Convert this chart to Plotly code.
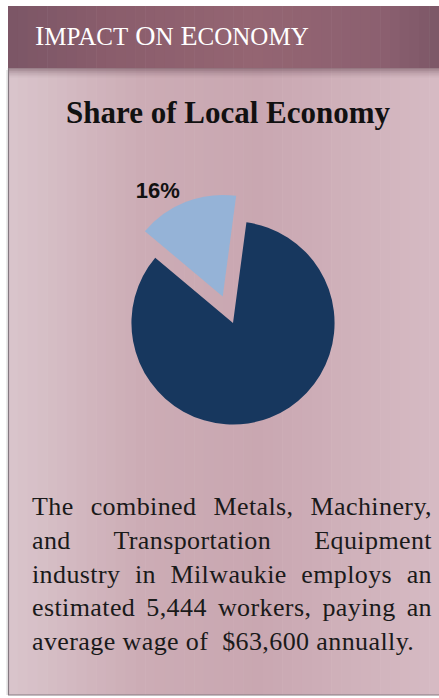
import plotly.graph_objects as go

# ---- data -----------------------------------------------------------------
SLICE_LABELS = ["Metals, Machinery & Transportation Equipment", "Rest of local economy"]
SLICE_SHARES = [16, 84]
SLICE_COLORS = ["#95b3d7", "#17375e"]
SLICE_TEXT = ["%{percent:.0%}", ""]

HEADER_TEXT = "Impact on Economy"
TITLE_TEXT = "Share of Local Economy"
BODY_LINES = [
    "The combined Metals, Machinery,",
    "and Transportation Equipment",
    "industry in Milwaukie employs an",
    "estimated 5,444 workers, paying an",
    "average wage of\u00a0 $63,600 annually.",
]

W, H = 439, 698
SERIF = "Liberation Serif, Times New Roman, serif"

# background gradient stops (x pixel, colour)
HEADER_STOPS = [(8, (123, 86, 102)), (110, (138, 93, 108)), (250, (148, 101, 114)),
                (380, (140, 96, 112)), (439, (124, 87, 103))]
BODY_STOPS = [(8, (218, 197, 204)), (140, (204, 172, 181)), (260, (201, 167, 177)),
              (439, (214, 187, 195))]


def _lerp_stops(stops, x):
    for (x0, c0), (x1, c1) in zip(stops[:-1], stops[1:]):
        if x0 <= x <= x1:
            t = (x - x0) / (x1 - x0)
            return tuple(round(a + (b - a) * t) for a, b in zip(c0, c1))
    return stops[-1][1]


def _gradient_strips(stops, y0, y1, n=44):
    x_start, x_end = stops[0][0], stops[-1][0]
    step = (x_end - x_start) / n
    shapes = []
    for i in range(n):
        xa = x_start + i * step
        r, g, b = _lerp_stops(stops, xa + step / 2)
        shapes.append(dict(type="rect", xref="x", yref="y", x0=xa, x1=xa + step + 0.6,
                           y0=y0, y1=y1, line_width=0, fillcolor=f"rgb({r},{g},{b})",
                           layer="below"))
    return shapes


def _small_caps(text, small=25):
    # first letter of each word full size, the rest as reduced capitals
    words = []
    for w in text.split():
        words.append(w[0].upper() + f'<span style="font-size:{small}px">{w[1:].upper()}</span>')
    return " ".join(words)


shapes = []
shapes += _gradient_strips(BODY_STOPS, 68, 695)
shapes += _gradient_strips(HEADER_STOPS, 6, 68)
# soft shadow under the header band
for i, a in enumerate([0.45, 0.32, 0.22, 0.14, 0.08, 0.04]):
    shapes.append(dict(type="rect", xref="x", yref="y", x0=8, x1=W, y0=68 + i * 1.6,
                       y1=68 + (i + 1) * 1.6, line_width=0,
                       fillcolor=f"rgba(80,50,62,{a})", layer="below"))
# panel borders
shapes.append(dict(type="line", xref="x", yref="y", x0=8.5, x1=8.5, y0=68, y1=695,
                   line=dict(color="#857880", width=1.2), layer="below"))
shapes.append(dict(type="line", xref="x", yref="y", x0=8, x1=W, y0=695, y1=695,
                   line=dict(color="#857880", width=1.2), layer="below"))
shapes.append(dict(type="line", xref="x", yref="y", x0=7, x1=7, y0=70, y1=695,
                   line=dict(color="rgba(0,0,0,0.08)", width=2), layer="below"))

fig = go.Figure()

fig.add_trace(
    go.Pie(
        labels=SLICE_LABELS,
        values=SLICE_SHARES,
        sort=False,
        direction="clockwise",
        rotation=-50,
        pull=[0.28, 0],
        marker=dict(colors=SLICE_COLORS, line=dict(width=0)),
        texttemplate=SLICE_TEXT,
        textposition=["outside", "none"],
        outsidetextfont=dict(family="Liberation Sans, Arial, sans-serif", size=22,
                             color="#111111", weight="bold"),
        domain=dict(x=[(233 - 130) / W, (233 + 130) / W],
                    y=[1 - (323 + 130) / H, 1 - (323 - 130) / H]),
        showlegend=False,
        hoverinfo="label+percent",
    )
)

annotations = [
    dict(x=33, y=35, xref="x", yref="y", text=_small_caps(HEADER_TEXT), showarrow=False,
         xanchor="left", yanchor="middle",
         font=dict(family=SERIF, size=28, color="#ffffff")),
    dict(x=228, y=112, xref="x", yref="y", text=f"<b>{TITLE_TEXT}</b>", showarrow=False,
         xanchor="center", yanchor="middle",
         font=dict(family=SERIF, size=31, color="#111111")),
    dict(x=30, y=490, xref="x", yref="y", text="<br>".join(BODY_LINES), showarrow=False,
         xanchor="left", yanchor="top", align="left",
         font=dict(family=SERIF, size=26, color="#1a1a1a")),
]

fig.update_layout(
    width=W,
    height=H,
    margin=dict(l=0, r=0, t=0, b=0),
    paper_bgcolor="#ffffff",
    plot_bgcolor="rgba(0,0,0,0)",
    xaxis=dict(range=[0, W], visible=False, fixedrange=True),
    yaxis=dict(range=[H, 0], visible=False, fixedrange=True),
    shapes=shapes,
    annotations=annotations,
    showlegend=False,
)

# drop the page margin, then justify the paragraph (all lines but the last)
JUSTIFY_JS = """
document.body.style.margin = '0';
var gd = document.getElementById('{plot_id}');
var target = 400;
gd.querySelectorAll('.annotation-text').forEach(function(t) {
  var lines = t.querySelectorAll('tspan.line');
  if (lines.length < 5) return;
  lines.forEach(function(ln, i) {
    ln.setAttribute('letter-spacing', '0.4');
    if (i === lines.length - 1) return;
    var n = (ln.textContent.match(/ /g) || []).length;
    if (!n) return;
    var extra = (target - ln.getComputedTextLength()) / n;
    ln.setAttribute('word-spacing', extra.toFixed(2));
  });
});
"""

fig.write_html("out.html", post_script=JUSTIFY_JS, config={"displayModeBar": False})
